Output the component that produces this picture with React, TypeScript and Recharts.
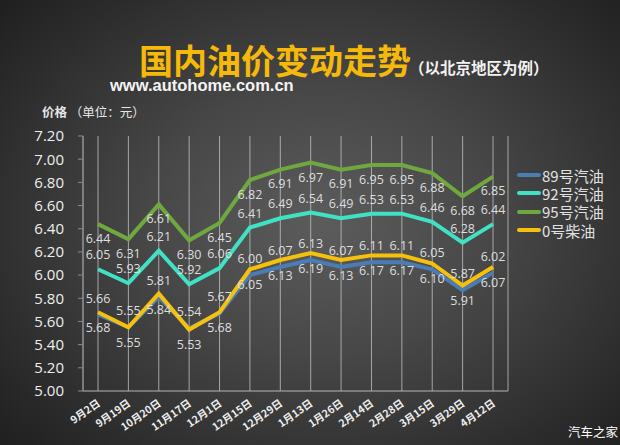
import React from 'react';
import { LineChart, Line, XAxis, YAxis, CartesianGrid, LabelList } from 'recharts';

const categories = ['9月2日', '9月19日', '10月20日', '11月17日', '12月1日', '12月15日', '12月29日', '1月13日', '1月26日', '2月14日', '2月28日', '3月15日', '3月29日', '4月12日'];
const gas89 = [5.66, 5.55, 5.81, 5.54, 5.67, 6.0, 6.07, 6.13, 6.07, 6.11, 6.11, 6.05, 5.87, 6.02];
const gas92 = [6.05, 5.93, 6.21, 5.92, 6.06, 6.41, 6.49, 6.54, 6.49, 6.53, 6.53, 6.46, 6.28, 6.44];
const gas95 = [6.44, 6.31, 6.61, 6.3, 6.45, 6.82, 6.91, 6.97, 6.91, 6.95, 6.95, 6.88, 6.68, 6.85];
const diesel0 = [5.68, 5.55, 5.84, 5.53, 5.68, 6.05, 6.13, 6.19, 6.13, 6.17, 6.17, 6.1, 5.91, 6.07];
const yTicks = [5.0, 5.2, 5.4, 5.6, 5.8, 6.0, 6.2, 6.4, 6.6, 6.8, 7.0, 7.2];

const data = categories.map((date, i) => ({
  date,
  g89: gas89[i],
  g92: gas92[i],
  g95: gas95[i],
  d0: diesel0[i],
}));

const SERIES = [
  { key: 'g89', name: '89号汽油', color: '#4a7db6', labelPos: 'top', offset: 12 },
  { key: 'g92', name: '92号汽油', color: '#40e2c6', labelPos: 'top', offset: 10 },
  { key: 'g95', name: '95号汽油', color: '#6ea83f', labelPos: 'bottom', offset: 10 },
  { key: 'd0', name: '0号柴油', color: '#f5c10c', labelPos: 'bottom', offset: 11 },
];

const CJK = '"Noto Sans CJK SC", sans-serif';

const XTick = ({ x, y, payload }: any) => (
  <g transform={`translate(${x + 3},${y + 14}) rotate(-35)`}>
    <text x={0} y={0} textAnchor="end" fill="#eeeeee" fontSize={10.5} fontWeight="bold" fontFamily={CJK}>
      {payload.value}
    </text>
  </g>
);

export default function App() {
  return (
    <div
      style={{
        position: 'absolute',
        left: 0,
        top: 0,
        width: 620,
        height: 445,
        overflow: 'hidden',
        background: 'radial-gradient(ellipse 70% 75% at 52% 50%, #5c5c5c 0%, #474747 40%, #2c2c2c 80%, #1f1f1f 100%)',
      }}
    >
      <div style={{ position: 'absolute', left: 139, top: 45, fontSize: 34, fontWeight: 'bold', color: '#f5b90a', fontFamily: CJK, lineHeight: '30px', whiteSpace: 'nowrap' }}>
        国内油价变动走势
      </div>
      <div style={{ position: 'absolute', left: 409, top: 58, fontSize: 15.5, fontWeight: 'bold', color: '#f2f2f2', fontFamily: CJK, lineHeight: '18px', whiteSpace: 'nowrap' }}>
        （以北京地区为例）
      </div>
      <div style={{ position: 'absolute', left: 110, top: 77, fontSize: 16.5, fontWeight: 'bold', color: '#f4f4f4', fontFamily: '"Liberation Sans", Arial, sans-serif', lineHeight: '16px', whiteSpace: 'nowrap' }}>
        www.autohome.com.cn
      </div>
      <div style={{ position: 'absolute', left: 42, top: 103, fontSize: 12.5, color: '#e6e6e6', fontFamily: CJK, lineHeight: '18px', whiteSpace: 'nowrap' }}>
        <b>价格</b> （单位：元）
      </div>

      <div style={{ position: 'absolute', left: 0, top: 0 }}>
        <LineChart width={620} height={445} data={data} margin={{ top: 136, right: 112, left: 0, bottom: 14 }}>
          <CartesianGrid horizontal={false} stroke="#c8c8c8" strokeOpacity={0.75} />
          <XAxis
            dataKey="date"
            interval={0}
            padding={{ left: 15, right: 15 }}
            axisLine={{ stroke: '#b5b5b5', strokeWidth: 1.2 }}
            tickLine={false}
            tickSize={0}
            tickMargin={0}
            height={40}
            tick={<XTick />}
          />
          <YAxis
            domain={[5, 7.2]}
            ticks={yTicks}
            width={83}
            axisLine={{ stroke: '#8c8c8c' }}
            tickLine={{ stroke: '#8c8c8c' }}
            tickSize={5}
            tickMargin={14}
            tickFormatter={(v: number) => v.toFixed(2)}
            tick={{ fill: '#eeeeee', fontSize: 15, fontFamily: '"Open Sans", sans-serif' }}
          />
          {SERIES.map((s) => (
            <Line
              key={s.key}
              type="linear"
              dataKey={s.key}
              name={s.name}
              stroke={s.color}
              strokeWidth={4}
              dot={false}
              activeDot={false}
              isAnimationActive={false}
            >
              <LabelList
                dataKey={s.key}
                position={s.labelPos as any}
                offset={s.offset}
                formatter={(v: any) => Number(v).toFixed(2)}
                style={{ fill: '#dedede', fontSize: 12.5, fontFamily: '"Open Sans", sans-serif' }}
              />
            </Line>
          ))}
        </LineChart>
      </div>

      <div style={{ position: 'absolute', left: 517, top: 166 }}>
        {SERIES.map((s) => (
          <div key={s.key} style={{ display: 'flex', alignItems: 'center', height: 18.3 }}>
            <div style={{ width: 24, height: 4, background: s.color, borderRadius: 2 }} />
            <span style={{ marginLeft: 1, fontSize: 15, color: '#e2e2e2', fontFamily: CJK, lineHeight: '15px', whiteSpace: 'nowrap' }}>{s.name}</span>
          </div>
        ))}
      </div>

      <div style={{ position: 'absolute', left: 568, top: 423, fontSize: 12.5, color: '#ffffff', fontFamily: CJK, lineHeight: '18px', whiteSpace: 'nowrap' }}>
        汽车之家
      </div>
    </div>
  );
}
